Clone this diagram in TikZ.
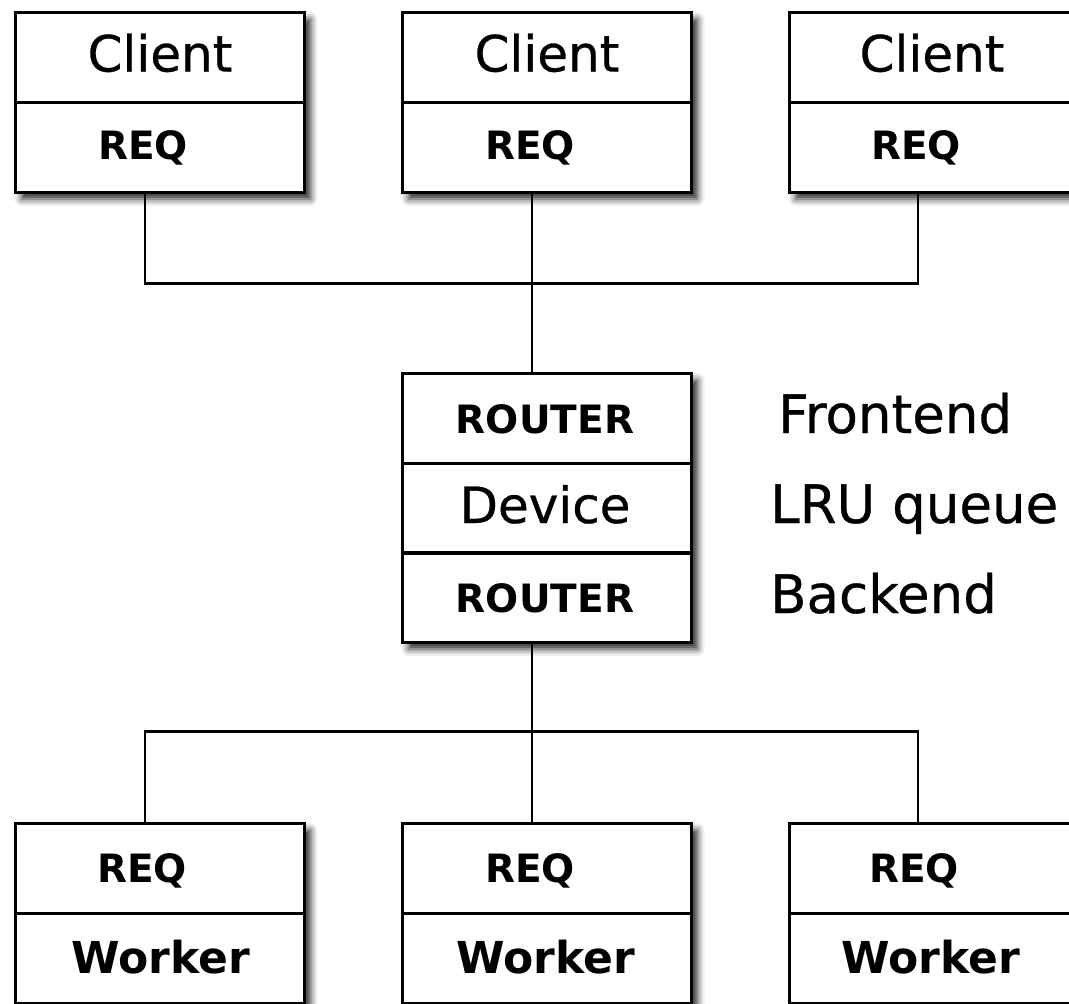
\documentclass[tikz,border=0pt]{standalone}
\usepackage{fontspec}
\setmainfont{DejaVu Sans}
\newfontfamily\heavyfont{DejaVu Sans}[FakeBold=0.6]
\usetikzlibrary{shadows.blur}

\begin{document}
\begin{tikzpicture}[x=1pt, y=-1pt,
		shade box/.style={fill=white, minimum width=289pt, inner sep=0,
			blur shadow={shadow xshift=6pt, shadow yshift=-7pt, shadow blur radius=7pt, shadow opacity=85}},
		cell/.style={draw, line width=3pt, minimum width=289pt, minimum height=90pt, inner sep=0},
		word/.style={anchor=base, inner sep=0, font=\heavyfont\fontsize{50}{60}\selectfont},
		sock/.style={anchor=base, inner sep=0, font=\bfseries\fontsize{39}{47}\selectfont},
		worker/.style={anchor=base, inner sep=0, font=\bfseries\fontsize{44}{53}\selectfont},
		side/.style={anchor=base west, inner sep=0, font=\heavyfont\fontsize{53}{63}\selectfont},
		wire/.style={line width=2.3pt}]
		\useasboundingbox (0,0) rectangle (1069,1004);

		% clients
		\node at (160,102) [shade box, minimum height=180pt] (client1) {};
		\node at (547,102) [shade box, minimum height=180pt] (client2) {};
		\node at (934,102) [shade box, minimum height=180pt] (client3) {};
		\node at (160,57) [cell] (client1top) {};
		\node at (160,147) [cell] (client1req) {};
		\node at (547,57) [cell] (client2top) {};
		\node at (547,147) [cell] (client2req) {};
		\node at (934,57) [cell] (client3top) {};
		\node at (934,147) [cell] (client3req) {};
		\node at (160,71.5) [word] (client1name) {Client};
		\node at (547,71.5) [word] (client2name) {Client};
		\node at (932,71.5) [word] (client3name) {Client};
		\node at (143,159.5) [sock] (client1sock) {REQ};
		\node at (530,159.5) [sock] (client2sock) {REQ};
		\node at (916,159.5) [sock] (client3sock) {REQ};

		% device
		\node at (547,507.5) [shade box, minimum height=269pt] (device) {};
		\node at (547,418) [cell] (front) {};
		\node at (547,508) [cell] (queue) {};
		\node at (547,597.5) [cell] (back) {};
		\node at (545,433) [sock] (frontsock) {ROUTER};
		\node at (545,523) [word] (devicename) {Device};
		\node at (545,612) [sock] (backsock) {ROUTER};
		\node at (778,433) [side] (frontlabel) {Frontend};
		\node at (770,523) [side] (queuelabel) {LRU queue};
		\node at (770,613) [side] (backlabel) {Backend};

		% workers
		\node at (160,913) [shade box, minimum height=180pt] (worker1) {};
		\node at (547,913) [shade box, minimum height=180pt] (worker2) {};
		\node at (934,913) [shade box, minimum height=180pt] (worker3) {};
		\node at (160,868) [cell] (worker1req) {};
		\node at (160,958) [cell] (worker1bot) {};
		\node at (547,868) [cell] (worker2req) {};
		\node at (547,958) [cell] (worker2bot) {};
		\node at (934,868) [cell] (worker3req) {};
		\node at (934,958) [cell] (worker3bot) {};
		\node at (142,882) [sock] (worker1sock) {REQ};
		\node at (530,882) [sock] (worker2sock) {REQ};
		\node at (914,882) [sock] (worker3sock) {REQ};
		\node at (161,973) [worker] (worker1name) {Worker};
		\node at (546,973) [worker] (worker2name) {Worker};
		\node at (931,973) [worker] (worker3name) {Worker};

		% wiring
		\draw[wire] ([xshift=-15pt]client1req.south) -- ++(0,90) -| ([xshift=-16pt]client3req.south);
		\draw[wire] ([xshift=-15pt]client2req.south) -- ([xshift=-15pt]front.north);
		\draw[wire] ([xshift=-15pt]back.south) -- ([xshift=-15pt]worker2req.north);
		\draw[wire] ([xshift=-15pt]worker1req.north) -- ++(0,-90) -| ([xshift=-16pt]worker3req.north);
	\end{tikzpicture}
\end{document}
